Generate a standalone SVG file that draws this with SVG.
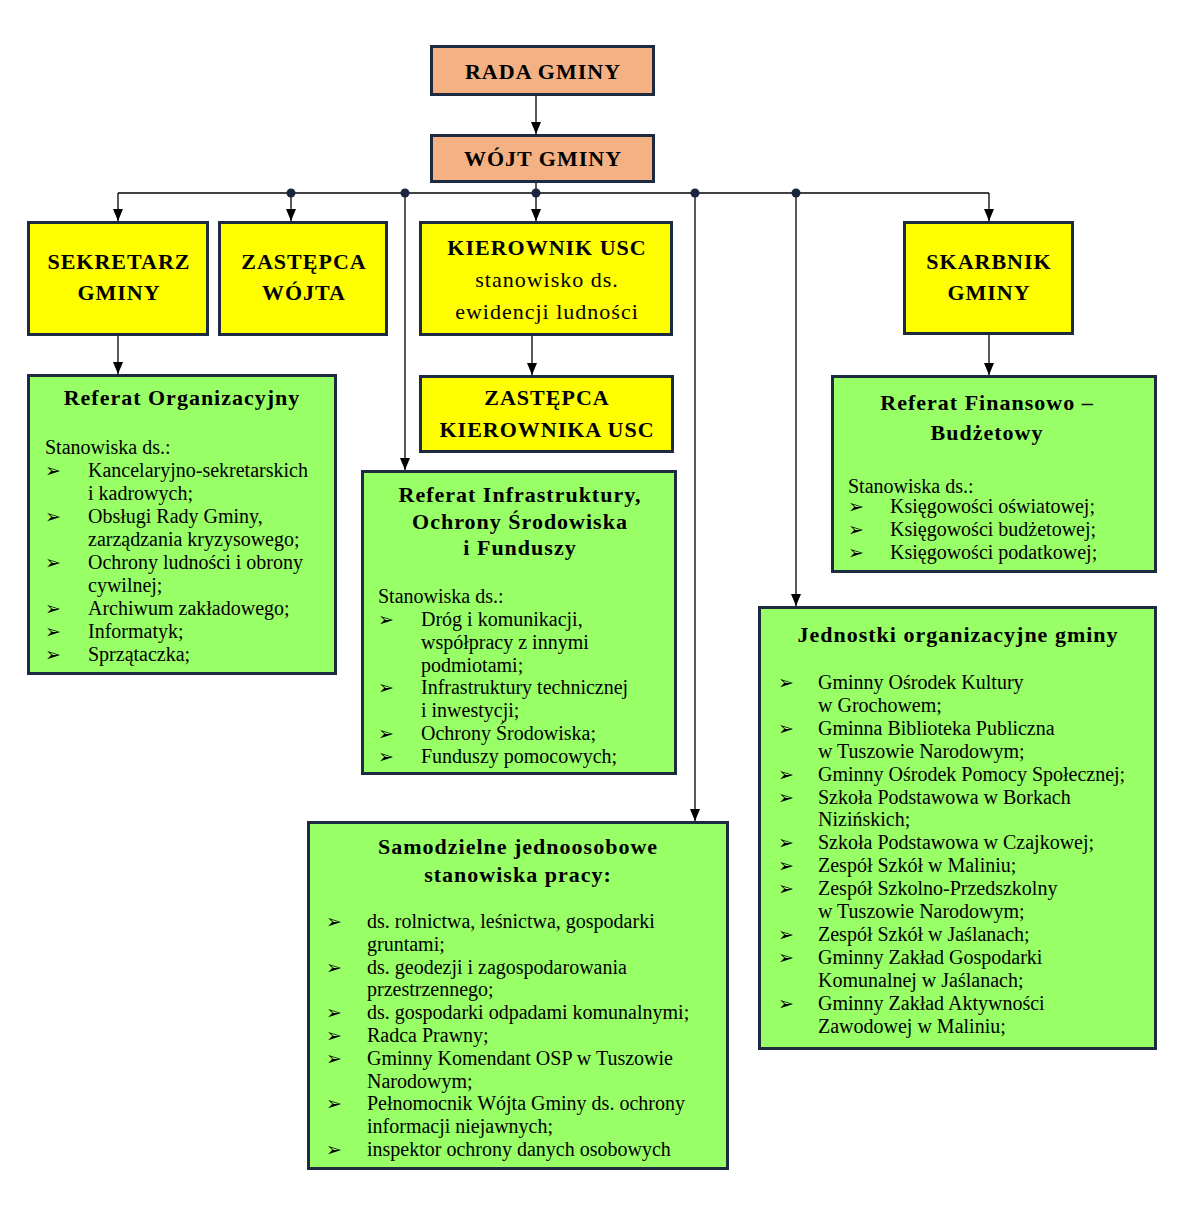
<svg xmlns="http://www.w3.org/2000/svg" width="1183" height="1209" viewBox="0 0 1183 1209">
<style>
.box{stroke:#1c2b3f;stroke-width:3}
.salmon{fill:#f4b183}
.yellow{fill:#ffff00}
.green{fill:#99ff66}
.t{font-family:"Liberation Serif","Times New Roman",serif;font-size:22px;font-weight:bold;letter-spacing:1px;fill:#000;text-anchor:middle}
.r{font-family:"Liberation Serif","Times New Roman",serif;font-size:22px;letter-spacing:1px;fill:#000;text-anchor:middle}
.b{font-family:"Liberation Serif","Times New Roman",serif;font-size:20px;fill:#000}
.bl{font-family:"DejaVu Sans",sans-serif;font-size:19px;fill:#000}
.ln{stroke:#000;stroke-width:1.3;fill:none}
.dot{fill:#1c2540}
</style>
<defs>
<marker id="arr" markerUnits="userSpaceOnUse" markerWidth="12" markerHeight="10" refX="12" refY="5" orient="auto">
<path d="M0,0 L12,5 L0,10 z" fill="#000"/>
</marker>
</defs>
<rect width="1183" height="1209" fill="#fff"/>

<g id="connectors">
<line class="ln" x1="536" y1="96" x2="536" y2="134" marker-end="url(#arr)"/>
<line class="ln" x1="536" y1="183" x2="536" y2="193"/>
<line class="ln" x1="118" y1="193" x2="989" y2="193"/>
<line class="ln" x1="118" y1="193" x2="118" y2="221" marker-end="url(#arr)"/>
<line class="ln" x1="291" y1="193" x2="291" y2="221" marker-end="url(#arr)"/>
<line class="ln" x1="536" y1="193" x2="536" y2="221" marker-end="url(#arr)"/>
<line class="ln" x1="989" y1="193" x2="989" y2="221" marker-end="url(#arr)"/>
<line class="ln" x1="405" y1="193" x2="405" y2="470" marker-end="url(#arr)"/>
<line class="ln" x1="695" y1="193" x2="695" y2="821" marker-end="url(#arr)"/>
<line class="ln" x1="796" y1="193" x2="796" y2="606" marker-end="url(#arr)"/>
<line class="ln" x1="118" y1="336" x2="118" y2="374" marker-end="url(#arr)"/>
<line class="ln" x1="532" y1="336" x2="532" y2="375" marker-end="url(#arr)"/>
<line class="ln" x1="989" y1="335" x2="989" y2="375" marker-end="url(#arr)"/>
<circle class="dot" cx="291" cy="193" r="4.5"/>
<circle class="dot" cx="405" cy="193" r="4.5"/>
<circle class="dot" cx="536" cy="193" r="4.5"/>
<circle class="dot" cx="695" cy="193" r="4.5"/>
<circle class="dot" cx="796" cy="193" r="4.5"/>
</g>

<g id="rada">
<rect class="box salmon" x="431.5" y="46.5" width="222" height="48"/>
<text class="t" x="543" y="79">RADA GMINY</text>
</g>

<g id="wojt">
<rect class="box salmon" x="431.5" y="135.5" width="222" height="46"/>
<text class="t" x="543" y="166">WÓJT GMINY</text>
</g>

<g id="sekretarz">
<rect class="box yellow" x="28.5" y="222.5" width="179" height="112"/>
<text class="t" x="119" y="269">SEKRETARZ</text>
<text class="t" x="119" y="300">GMINY</text>
</g>

<g id="zastepca">
<rect class="box yellow" x="219.5" y="222.5" width="167" height="112"/>
<text class="t" x="304" y="269">ZASTĘPCA</text>
<text class="t" x="304" y="300">WÓJTA</text>
</g>

<g id="kierownik-usc">
<rect class="box yellow" x="420.5" y="222.5" width="251" height="112"/>
<text class="t" x="547" y="255">KIEROWNIK USC</text>
<text class="r" x="547" y="287">stanowisko ds.</text>
<text class="r" x="547" y="319">ewidencji ludności</text>
</g>

<g id="skarbnik">
<rect class="box yellow" x="904.5" y="222.5" width="168" height="111"/>
<text class="t" x="989" y="269">SKARBNIK</text>
<text class="t" x="989" y="300">GMINY</text>
</g>

<g id="zastepca-kierownika">
<rect class="box yellow" x="420.5" y="376.5" width="252" height="75"/>
<text class="t" x="547" y="405">ZASTĘPCA</text>
<text class="t" x="547" y="437">KIEROWNIKA USC</text>
</g>

<g id="referat-organizacyjny">
<rect class="box green" x="28.5" y="375.5" width="307" height="298"/>
<text class="t" x="182" y="405">Referat Organizacyjny</text>
<text class="b" x="45" y="454">Stanowiska ds.:</text>
<text class="bl" x="45" y="477">➢</text>
<text class="b" x="88" y="477">Kancelaryjno-sekretarskich</text>
<text class="b" x="88" y="500">i kadrowych;</text>
<text class="bl" x="45" y="523">➢</text>
<text class="b" x="88" y="523">Obsługi Rady Gminy,</text>
<text class="b" x="88" y="546">zarządzania kryzysowego;</text>
<text class="bl" x="45" y="569">➢</text>
<text class="b" x="88" y="569">Ochrony ludności i obrony</text>
<text class="b" x="88" y="592">cywilnej;</text>
<text class="bl" x="45" y="615">➢</text>
<text class="b" x="88" y="615">Archiwum zakładowego;</text>
<text class="bl" x="45" y="638">➢</text>
<text class="b" x="88" y="638">Informatyk;</text>
<text class="bl" x="45" y="661">➢</text>
<text class="b" x="88" y="661">Sprzątaczka;</text>
</g>

<g id="referat-infrastruktury">
<rect class="box green" x="362.5" y="471.5" width="313" height="302"/>
<text class="t" x="520" y="502">Referat Infrastruktury,</text>
<text class="t" x="520" y="529">Ochrony Środowiska</text>
<text class="t" x="520" y="555">i Funduszy</text>
<text class="b" x="378" y="603">Stanowiska ds.:</text>
<text class="bl" x="378" y="626">➢</text>
<text class="b" x="421" y="626">Dróg i komunikacji,</text>
<text class="b" x="421" y="649">współpracy z innymi</text>
<text class="b" x="421" y="672">podmiotami;</text>
<text class="bl" x="378" y="694">➢</text>
<text class="b" x="421" y="694">Infrastruktury technicznej</text>
<text class="b" x="421" y="717">i inwestycji;</text>
<text class="bl" x="378" y="740">➢</text>
<text class="b" x="421" y="740">Ochrony Środowiska;</text>
<text class="bl" x="378" y="763">➢</text>
<text class="b" x="421" y="763">Funduszy pomocowych;</text>
</g>

<g id="referat-finansowo-budzetowy">
<rect class="box green" x="832.5" y="376.5" width="323" height="195"/>
<text class="t" x="987" y="410">Referat Finansowo –</text>
<text class="t" x="987" y="440">Budżetowy</text>
<text class="b" x="848" y="493">Stanowiska ds.:</text>
<text class="bl" x="848" y="513">➢</text>
<text class="b" x="890" y="513">Księgowości oświatowej;</text>
<text class="bl" x="848" y="536">➢</text>
<text class="b" x="890" y="536">Księgowości budżetowej;</text>
<text class="bl" x="848" y="559">➢</text>
<text class="b" x="890" y="559">Księgowości podatkowej;</text>
</g>

<g id="jednostki-organizacyjne">
<rect class="box green" x="759.5" y="607.5" width="396" height="441"/>
<text class="t" x="958" y="642">Jednostki organizacyjne gminy</text>
<text class="bl" x="778" y="689">➢</text>
<text class="b" x="818" y="689">Gminny Ośrodek Kultury</text>
<text class="b" x="818" y="712">w Grochowem;</text>
<text class="bl" x="778" y="735">➢</text>
<text class="b" x="818" y="735">Gminna Biblioteka Publiczna</text>
<text class="b" x="818" y="758">w Tuszowie Narodowym;</text>
<text class="bl" x="778" y="781">➢</text>
<text class="b" x="818" y="781">Gminny Ośrodek Pomocy Społecznej;</text>
<text class="bl" x="778" y="804">➢</text>
<text class="b" x="818" y="804">Szkoła Podstawowa w Borkach</text>
<text class="b" x="818" y="826">Nizińskich;</text>
<text class="bl" x="778" y="849">➢</text>
<text class="b" x="818" y="849">Szkoła Podstawowa w Czajkowej;</text>
<text class="bl" x="778" y="872">➢</text>
<text class="b" x="818" y="872">Zespół Szkół w Maliniu;</text>
<text class="bl" x="778" y="895">➢</text>
<text class="b" x="818" y="895">Zespół Szkolno-Przedszkolny</text>
<text class="b" x="818" y="918">w Tuszowie Narodowym;</text>
<text class="bl" x="778" y="941">➢</text>
<text class="b" x="818" y="941">Zespół Szkół w Jaślanach;</text>
<text class="bl" x="778" y="964">➢</text>
<text class="b" x="818" y="964">Gminny Zakład Gospodarki</text>
<text class="b" x="818" y="987">Komunalnej w Jaślanach;</text>
<text class="bl" x="778" y="1010">➢</text>
<text class="b" x="818" y="1010">Gminny Zakład Aktywności</text>
<text class="b" x="818" y="1033">Zawodowej w Maliniu;</text>
</g>

<g id="samodzielne-stanowiska">
<rect class="box green" x="308.5" y="822.5" width="419" height="346"/>
<text class="t" x="518" y="854">Samodzielne jednoosobowe</text>
<text class="t" x="518" y="882">stanowiska pracy:</text>
<text class="bl" x="326" y="928">➢</text>
<text class="b" x="367" y="928">ds. rolnictwa, leśnictwa, gospodarki</text>
<text class="b" x="367" y="951">gruntami;</text>
<text class="bl" x="326" y="974">➢</text>
<text class="b" x="367" y="974">ds. geodezji i zagospodarowania</text>
<text class="b" x="367" y="996">przestrzennego;</text>
<text class="bl" x="326" y="1019">➢</text>
<text class="b" x="367" y="1019">ds. gospodarki odpadami komunalnymi;</text>
<text class="bl" x="326" y="1042">➢</text>
<text class="b" x="367" y="1042">Radca Prawny;</text>
<text class="bl" x="326" y="1065">➢</text>
<text class="b" x="367" y="1065">Gminny Komendant OSP w Tuszowie</text>
<text class="b" x="367" y="1088">Narodowym;</text>
<text class="bl" x="326" y="1110">➢</text>
<text class="b" x="367" y="1110">Pełnomocnik Wójta Gminy ds. ochrony</text>
<text class="b" x="367" y="1133">informacji niejawnych;</text>
<text class="bl" x="326" y="1156">➢</text>
<text class="b" x="367" y="1156">inspektor ochrony danych osobowych</text>
</g>
</svg>
